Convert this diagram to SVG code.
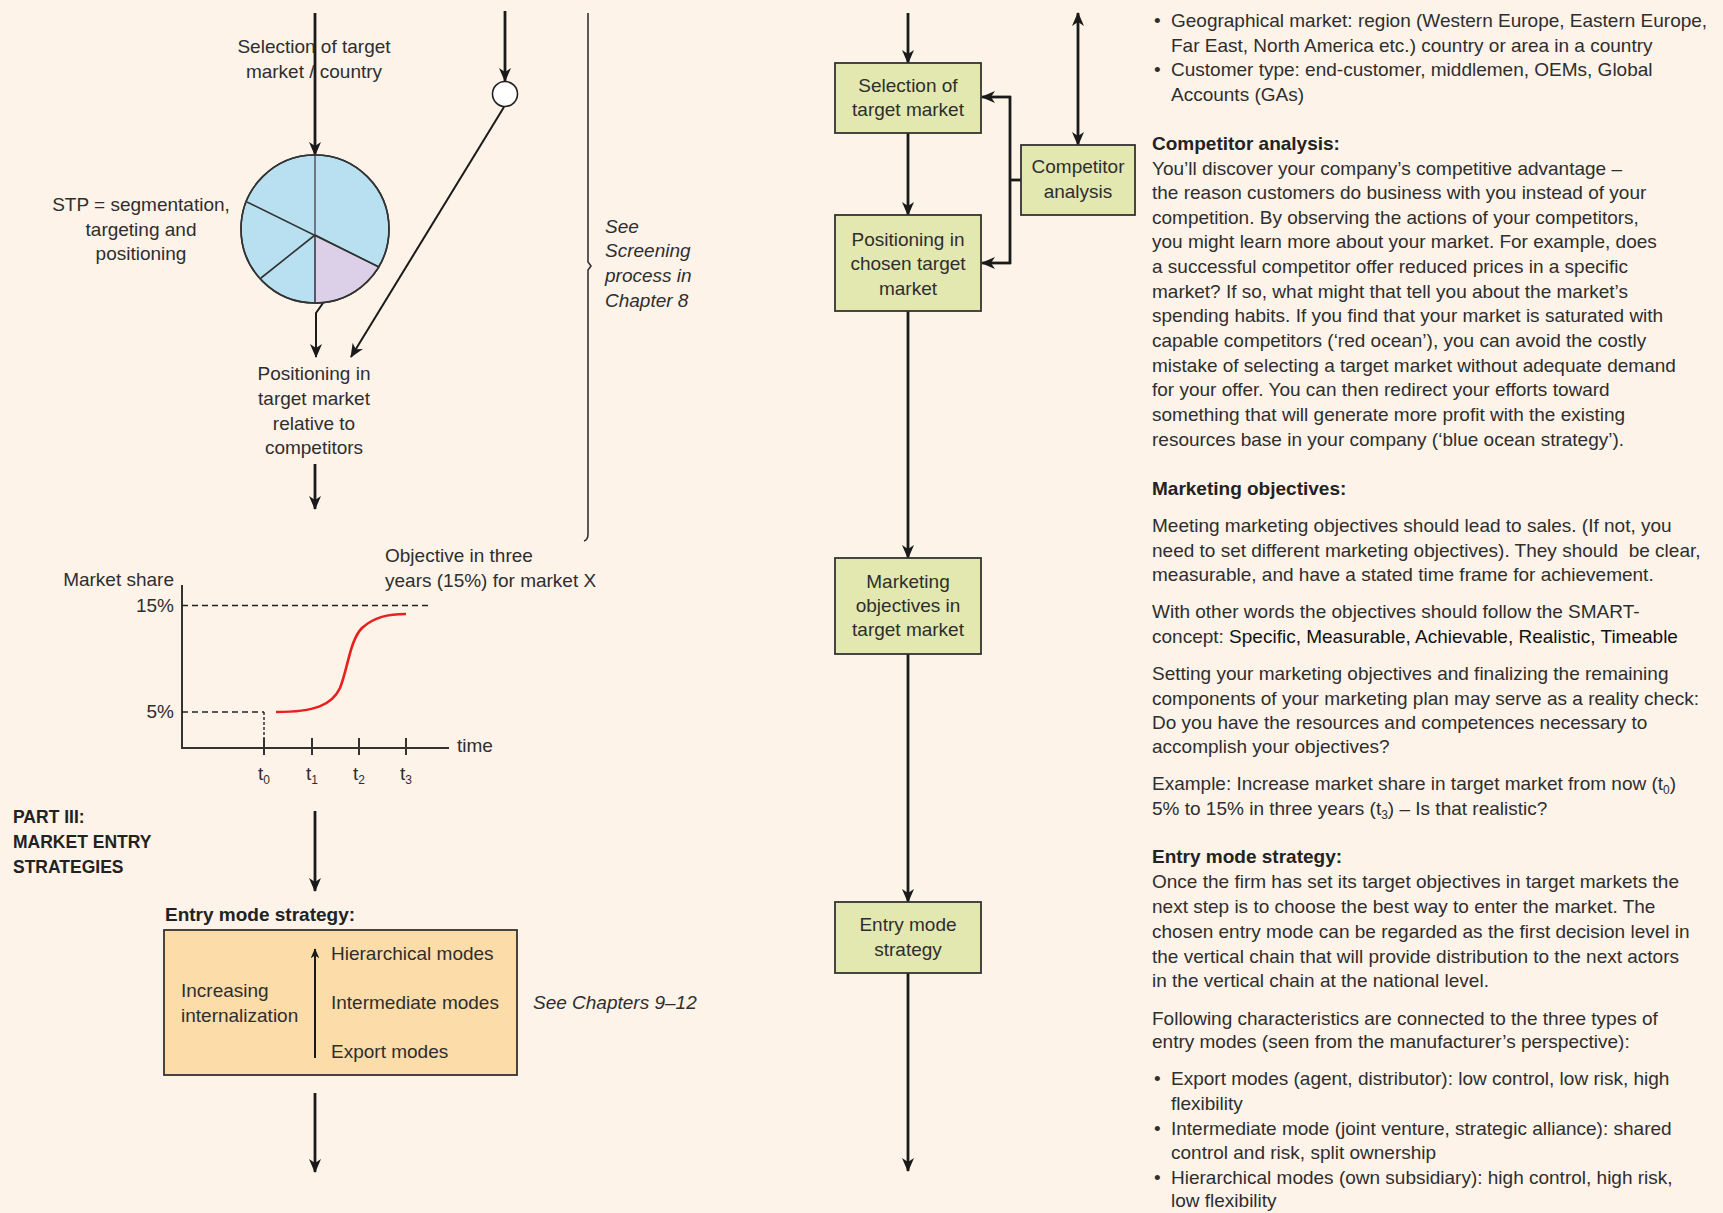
<svg xmlns="http://www.w3.org/2000/svg" width="1723" height="1213" viewBox="0 0 1723 1213">
<defs>
<marker id="ah" viewBox="0 0 14 12" refX="13" refY="6" markerWidth="14" markerHeight="12" markerUnits="userSpaceOnUse" orient="auto-start-reverse">
<path d="M0,0 L14,6 L0,12 L4,6 z" fill="#1a1a1a"/>
</marker>
<marker id="ahs" viewBox="0 0 14 12" refX="13" refY="6" markerWidth="10" markerHeight="9" markerUnits="userSpaceOnUse" orient="auto">
<path d="M0,0 L14,6 L0,12 L4,6 z" fill="#1a1a1a"/>
</marker>
</defs>
<style>
text{font-family:"Liberation Sans",Arial,sans-serif;font-size:19px;fill:#2e2e2e}
.c{text-anchor:middle}
.e{text-anchor:end}
.b{font-weight:bold;fill:#222}
.i{font-style:italic}
.box{fill:#e2e8b0;stroke:#333;stroke-width:1.8}
.con{stroke:#1a1a1a;stroke-width:2.8;fill:none}
.thin{stroke:#1a1a1a;stroke-width:2;fill:none}
.dash{stroke:#222;stroke-width:1.6;stroke-dasharray:6,4;fill:none}
.sub{font-size:12px}
.dk{fill:#111}
</style>
<rect width="1723" height="1213" fill="#fdf3e9"/>

<g id="connectors">
<line class="con" x1="315" y1="13" x2="315" y2="155" marker-end="url(#ah)"/>
<line class="con" x1="505" y1="11" x2="505" y2="81" marker-end="url(#ah)"/>
<line class="thin" x1="504" y1="107" x2="351" y2="357" marker-end="url(#ah)"/>
<polyline class="thin" points="342,276 316,313 316,357" marker-end="url(#ah)"/>
<line class="con" x1="315" y1="464" x2="315" y2="509" marker-end="url(#ah)"/>
<line class="con" x1="315" y1="811" x2="315" y2="891" marker-end="url(#ah)"/>
<line class="con" x1="315" y1="1093" x2="315" y2="1172" marker-end="url(#ah)"/>
<path d="M588,13 L588,262 L591,266 L588,270 L588,534 Q588,540 584,541" fill="none" stroke="#333" stroke-width="1.6"/>
<line class="con" x1="908" y1="13" x2="908" y2="63" marker-end="url(#ah)"/>
<line class="con" x1="908" y1="133" x2="908" y2="215" marker-end="url(#ah)"/>
<line class="con" x1="908" y1="311" x2="908" y2="558" marker-end="url(#ah)"/>
<line class="con" x1="908" y1="654" x2="908" y2="902" marker-end="url(#ah)"/>
<line class="con" x1="908" y1="973" x2="908" y2="1171" marker-end="url(#ah)"/>
<line class="con" x1="1078" y1="13" x2="1078" y2="145" marker-start="url(#ah)" marker-end="url(#ah)"/>
<polyline class="con" points="1021,180 1010,180"/>
<line class="con" x1="1010" y1="96" x2="1010" y2="264"/>
<line class="con" x1="1011" y1="97" x2="982" y2="97" marker-end="url(#ah)"/>
<line class="con" x1="1011" y1="263" x2="982" y2="263" marker-end="url(#ah)"/>
</g>

<g id="selection-label">
<text class="c" x="314" y="53">Selection of target</text>
<text class="c" x="314" y="78">market / country</text>
</g>

<g id="pie">
<circle cx="315" cy="229" r="74" fill="#b8e0f0" stroke="#333" stroke-width="1.6"/>
<path d="M315,235 L315,303 A74,74 0 0 0 379,267 Z" fill="#dcd0e8" stroke="#333" stroke-width="1.4"/>
<line x1="315" y1="155" x2="315" y2="303" stroke="#556" stroke-width="1.5"/>
<line x1="247" y1="202" x2="379" y2="267" stroke="#333" stroke-width="1.6"/>
<line x1="315" y1="235" x2="261" y2="278" stroke="#333" stroke-width="1.6"/>
<circle cx="315" cy="229" r="74" fill="none" stroke="#333" stroke-width="1.6"/>
</g>

<g id="stp-label">
<text class="c" x="141" y="211">STP = segmentation,</text>
<text class="c" x="141" y="236">targeting and</text>
<text class="c" x="141" y="260">positioning</text>
</g>

<g id="screen-node">
<circle cx="505" cy="94" r="12.5" fill="#fff" stroke="#222" stroke-width="1.6"/>
</g>

<g id="positioning-label">
<text class="c" x="314" y="380">Positioning in</text>
<text class="c" x="314" y="405">target market</text>
<text class="c" x="314" y="430">relative to</text>
<text class="c" x="314" y="454">competitors</text>
</g>

<g id="see-screening">
<text class="i" x="605" y="233">See</text>
<text class="i" x="605" y="257">Screening</text>
<text class="i" x="605" y="282">process in</text>
<text class="i" x="605" y="307">Chapter 8</text>
</g>

<g id="chart">
<text class="e" x="174" y="586">Market share</text>
<text class="e" x="174" y="612">15%</text>
<text class="e" x="174" y="718">5%</text>
<polyline points="182,585 182,748 449,748" fill="none" stroke="#333" stroke-width="2"/>
<line class="dash" x1="182" y1="605.5" x2="430" y2="605.5"/>
<line class="dash" x1="182" y1="712" x2="264" y2="712"/>
<line x1="264" y1="712" x2="264" y2="748" stroke="#222" stroke-width="1.4" stroke-dasharray="3,2"/>
<g stroke="#333" stroke-width="2">
<line x1="264" y1="738" x2="264" y2="755"/>
<line x1="312" y1="738" x2="312" y2="755"/>
<line x1="359" y1="738" x2="359" y2="755"/>
<line x1="406" y1="738" x2="406" y2="755"/>
</g>
<text x="457" y="752">time</text>
<text class="c" x="264" y="780">t<tspan class="sub" dy="4">0</tspan></text>
<text class="c" x="312" y="780">t<tspan class="sub" dy="4">1</tspan></text>
<text class="c" x="359" y="780">t<tspan class="sub" dy="4">2</tspan></text>
<text class="c" x="406" y="780">t<tspan class="sub" dy="4">3</tspan></text>
<path d="M276,712 C315,712 332,705 340,688 C348,668 350,640 362,628 C374,617 388,614 406,614" fill="none" stroke="#e8201e" stroke-width="2.6"/>
<text x="385" y="562">Objective in three</text>
<text x="385" y="587">years (15%) for market X</text>
</g>

<g id="part-label">
<text class="b" style="font-size:17.5px" x="13" y="823">PART III:</text>
<text class="b" style="font-size:17.5px" x="13" y="848">MARKET ENTRY</text>
<text class="b" style="font-size:17.5px" x="13" y="873">STRATEGIES</text>
</g>

<g id="entry-mode-box">
<text class="b" x="165" y="921">Entry mode strategy:</text>
<rect x="164" y="930" width="353" height="145" fill="#fcdca8" stroke="#333" stroke-width="1.8"/>
<line class="thin" x1="315" y1="1058" x2="315" y2="949" stroke-width="1.6" marker-end="url(#ahs)"/>
<text x="331" y="960">Hierarchical modes</text>
<text x="331" y="1009">Intermediate modes</text>
<text x="331" y="1058">Export modes</text>
<text x="181" y="997">Increasing</text>
<text x="181" y="1022">internalization</text>
</g>

<g id="see-chapters">
<text class="i" x="533" y="1009">See Chapters 9–12</text>
</g>

<g id="node-selection">
<rect class="box" x="835" y="63" width="146" height="70"/>
<text class="c" x="908" y="92">Selection of</text>
<text class="c" x="908" y="116">target market</text>
</g>
<g id="node-positioning">
<rect class="box" x="835" y="215" width="146" height="96"/>
<text class="c" x="908" y="246">Positioning in</text>
<text class="c" x="908" y="270">chosen target</text>
<text class="c" x="908" y="295">market</text>
</g>
<g id="node-competitor">
<rect class="box" x="1021" y="145" width="114" height="70"/>
<text class="c" x="1078" y="173">Competitor</text>
<text class="c" x="1078" y="198">analysis</text>
</g>
<g id="node-objectives">
<rect class="box" x="835" y="558" width="146" height="96"/>
<text class="c" x="908" y="588">Marketing</text>
<text class="c" x="908" y="612">objectives in</text>
<text class="c" x="908" y="636">target market</text>
</g>
<g id="node-entry">
<rect class="box" x="835" y="902" width="146" height="71"/>
<text class="c" x="908" y="931">Entry mode</text>
<text class="c" x="908" y="956">strategy</text>
</g>

<g id="text-column">
<text x="1154" y="27">•</text><text x="1171" y="27">Geographical market: region (Western Europe, Eastern Europe,</text>
<text x="1171" y="52">Far East, North America etc.) country or area in a country</text>
<text x="1154" y="76">•</text><text x="1171" y="76">Customer type: end-customer, middlemen, OEMs, Global</text>
<text x="1171" y="101">Accounts (GAs)</text>

<text class="b" x="1152" y="150">Competitor analysis:</text>
<text x="1152" y="175">You’ll discover your company’s competitive advantage –</text>
<text x="1152" y="199">the reason customers do business with you instead of your</text>
<text x="1152" y="224">competition. By observing the actions of your competitors,</text>
<text x="1152" y="248">you might learn more about your market. For example, does</text>
<text x="1152" y="273">a successful competitor offer reduced prices in a specific</text>
<text x="1152" y="298">market? If so, what might that tell you about the market’s</text>
<text x="1152" y="322">spending habits. If you find that your market is saturated with</text>
<text x="1152" y="347">capable competitors (‘red ocean’), you can avoid the costly</text>
<text x="1152" y="372">mistake of selecting a target market without adequate demand</text>
<text x="1152" y="396">for your offer. You can then redirect your efforts toward</text>
<text x="1152" y="421">something that will generate more profit with the existing</text>
<text x="1152" y="446">resources base in your company (‘blue ocean strategy’).</text>

<text class="b" x="1152" y="495">Marketing objectives:</text>
<text x="1152" y="532">Meeting marketing objectives should lead to sales. (If not, you</text>
<text x="1152" y="557">need to set different marketing objectives). They should&#160; be clear,</text>
<text x="1152" y="581">measurable, and have a stated time frame for achievement.</text>
<text x="1152" y="618">With other words the objectives should follow the SMART-</text>
<text x="1152" y="643">concept: <tspan class="dk">Specific, Measurable, Achievable, Realistic, Timeable</tspan></text>
<text x="1152" y="680">Setting your marketing objectives and finalizing the remaining</text>
<text x="1152" y="705">components of your marketing plan may serve as a reality check:</text>
<text x="1152" y="729">Do you have the resources and competences necessary to</text>
<text x="1152" y="753">accomplish your objectives?</text>
<text x="1152" y="790">Example: Increase market share in target market from now (t<tspan class="sub" dy="4">0</tspan><tspan dy="-4">)</tspan></text>
<text x="1152" y="815">5% to 15% in three years (t<tspan class="sub" dy="4">3</tspan><tspan dy="-4">) – Is that realistic?</tspan></text>

<text class="b" x="1152" y="863">Entry mode strategy:</text>
<text x="1152" y="888">Once the firm has set its target objectives in target markets the</text>
<text x="1152" y="913">next step is to choose the best way to enter the market. The</text>
<text x="1152" y="938">chosen entry mode can be regarded as the first decision level in</text>
<text x="1152" y="963">the vertical chain that will provide distribution to the next actors</text>
<text x="1152" y="987">in the vertical chain at the national level.</text>
<text x="1152" y="1025">Following characteristics are connected to the three types of</text>
<text x="1152" y="1048">entry modes (seen from the manufacturer’s perspective):</text>
<text x="1154" y="1085">•</text><text x="1171" y="1085">Export modes (agent, distributor): low control, low risk, high</text>
<text x="1171" y="1110">flexibility</text>
<text x="1154" y="1135">•</text><text x="1171" y="1135">Intermediate mode (joint venture, strategic alliance): shared</text>
<text x="1171" y="1159">control and risk, split ownership</text>
<text x="1154" y="1184">•</text><text x="1171" y="1184">Hierarchical modes (own subsidiary): high control, high risk,</text>
<text x="1171" y="1207">low flexibility</text>
</g>
</svg>
